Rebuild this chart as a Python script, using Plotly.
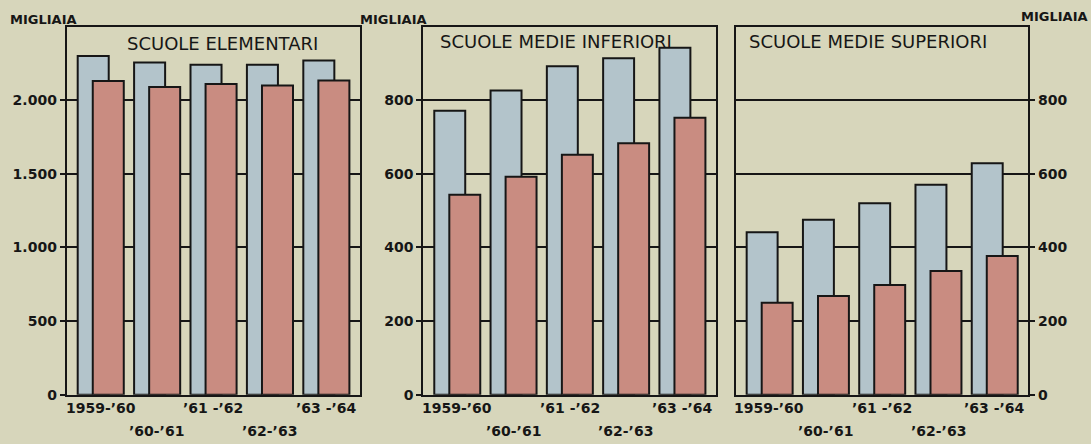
import plotly.graph_objects as go

# ---- data (migliaia) ----
years = ["1959-’60", "’60-’61", "’61 -’62", "’62-’63", "’63 -’64"]
titles = ["SCUOLE ELEMENTARI", "SCUOLE MEDIE INFERIORI", "SCUOLE MEDIE SUPERIORI"]

elem_blue = [2300, 2255, 2240, 2240, 2270]
elem_red = [2130, 2090, 2110, 2100, 2133]
inf_blue = [771, 826, 892, 914, 942]
inf_red = [543, 592, 652, 683, 752]
sup_blue = [441, 475, 520, 570, 629]
sup_red = [250, 268, 298, 336, 377]

elem_tickvals = [0, 500, 1000, 1500, 2000]
elem_ticktext = ["0", "500", "1.000", "1.500", "2.000"]
med_tickvals = [0, 200, 400, 600, 800]
med_ticktext = ["0", "200", "400", "600", "800"]

unit_label = "MIGLIAIA"

# ---- style ----
W, H = 1091, 444
BG = "#d7d6bb"
BLUE = "#b3c4cb"
RED = "#c98c81"
INK = "#161616"
FONT = "DejaVu Sans"


def fx(p):
    return p / W


def fy(p):
    return 1 - p / H


panels = [
    dict(blue=elem_blue, red=elem_red, rng=[0, 2500], tv=elem_tickvals, tt=elem_ticktext,
         dom=[fx(66.7), fx(360)], side="left"),
    dict(blue=inf_blue, red=inf_red, rng=[0, 1000], tv=med_tickvals, tt=med_ticktext,
         dom=[fx(423.3), fx(716)], side="left"),
    dict(blue=sup_blue, red=sup_red, rng=[0, 1000], tv=med_tickvals, tt=med_ticktext,
         dom=[fx(735.7), fx(1028.3)], side="right"),
]

fig = go.Figure()
xs = list(range(len(years)))
annotations = []
for i, p in enumerate(panels):
    sfx = "" if i == 0 else str(i + 1)
    xa, ya = "x" + sfx, "y" + sfx
    fig.add_trace(go.Bar(x=xs, y=p["blue"], width=0.55, offset=-0.405,
                         marker=dict(color=BLUE, line=dict(color=INK, width=2)),
                         xaxis=xa, yaxis=ya, showlegend=False, hoverinfo="skip"))
    fig.add_trace(go.Bar(x=xs, y=p["red"], width=0.55, offset=-0.138,
                         marker=dict(color=RED, line=dict(color=INK, width=2)),
                         xaxis=xa, yaxis=ya, showlegend=False, hoverinfo="skip"))
    fig.layout["xaxis" + sfx] = dict(
        domain=p["dom"], range=[-0.6, 4.6], anchor=ya, showticklabels=False,
        showgrid=False, zeroline=False, showline=True, mirror=True,
        linecolor=INK, linewidth=2, ticks="", fixedrange=True)
    fig.layout["yaxis" + sfx] = dict(
        domain=[fy(402), fy(27)], range=p["rng"], anchor=xa, side=p["side"],
        tickvals=p["tv"], ticktext=p["tt"], ticks="outside", ticklen=5,
        tickwidth=1.5, tickcolor=INK, showgrid=True, gridcolor=INK, gridwidth=1.5,
        showline=True, mirror=True, linecolor=INK, linewidth=2, zeroline=False,
        tickfont=dict(family=FONT, size=14, color=INK, weight="bold"), fixedrange=True)
    # category labels, staggered in two rows
    for j, lab in enumerate(years):
        annotations.append(dict(
            x=j, y=0, xref=xa, yref=ya, text=lab, showarrow=False,
            xanchor="center", yanchor="top", yshift=-3 if j % 2 == 0 else -26,
            font=dict(family=FONT, size=14, color=INK, weight="bold")))

# panel titles
for t, cx, cy in zip(titles, [222, 556, 868], [44, 42, 42]):
    annotations.append(dict(x=fx(cx), y=fy(cy), xref="paper", yref="paper", text=t,
                            showarrow=False, xanchor="center", yanchor="middle",
                            font=dict(family=FONT, size=18, color=INK)))

# unit labels
for ux, uy, anc in [(8, 20, "left"), (358, 20, "left"), (1090, 17, "right")]:
    annotations.append(dict(x=fx(ux), y=fy(uy), xref="paper", yref="paper", text=unit_label,
                            showarrow=False, xanchor=anc, yanchor="middle",
                            font=dict(family=FONT, size=13, color=INK, weight="bold")))

fig.update_layout(
    width=W, height=H, margin=dict(l=0, r=0, t=0, b=0),
    paper_bgcolor=BG, plot_bgcolor=BG, barmode="overlay",
    annotations=annotations, font=dict(family=FONT, color=INK),
)

css = "margin:0;padding:0;overflow:hidden;background:%s" % BG
fig.write_html(
    "out.html",
    config={"displayModeBar": False, "responsive": False},
    post_script=("document.documentElement.style.cssText='%s';"
                 "document.body.style.cssText='%s';") % (css, css),
)
